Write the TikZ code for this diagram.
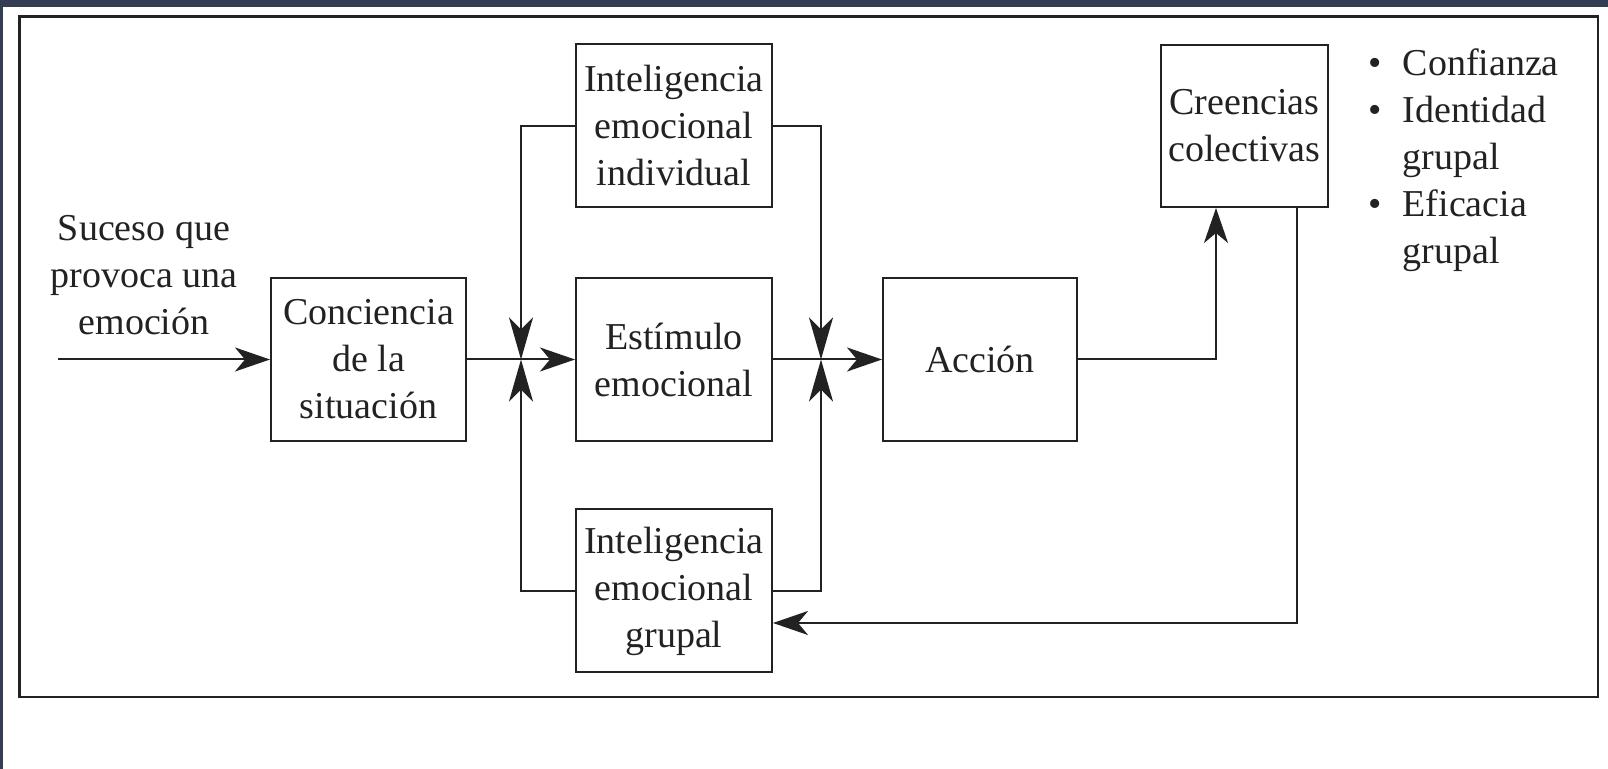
\documentclass[tikz,border=0pt]{standalone}
\usepackage{fontspec}
\setmainfont{Liberation Serif}
\usetikzlibrary{arrows.meta}
\definecolor{band}{HTML}{333E52}
\definecolor{ink}{HTML}{222222}
\tikzset{
  every node/.style={font=\fontsize{19pt}{23.5pt}\selectfont, text=ink},
  box/.style={draw=ink, line width=1pt, minimum width=98pt, minimum height=81.5pt, align=center, inner sep=0pt},
  conn/.style={draw=ink, line width=1pt},
  arrH/.style={conn, -{Stealth[length=17.5pt,width=12pt,inset=5pt]}},
  arrV/.style={conn, -{Stealth[length=21pt,width=12pt,inset=6pt]}},
}
\begin{document}
\begin{tikzpicture}[x=0.5pt,y=-0.5pt]
\useasboundingbox (0,0) rectangle (1608,769);
\fill[white] (0,0) rectangle (1608,769);
\fill[band] (0,0) rectangle (1608,7);
\fill[band] (0,0) rectangle (2.5,769);
\draw[ink, line width=1.3pt] (19.5,16.5) rectangle (1598,697);

\node[box, minimum width=97.5pt] (conc) at (368.5,359.5) {Conciencia\\de la\\situación};
\node[box] (est) at (674,359.5) {Estímulo\\emocional};
\node[box] (ind) at (674,126) {Inteligencia\\emocional\\individual};
\node[box] (grp) at (674,591) {Inteligencia\\emocional\\grupal};
\node[box, minimum width=97pt] (acc) at (980,359.5) {Acción};
\node[box, minimum width=83.5pt, minimum height=81pt] (cre) at (1244.5,126) {Creencias\\colectivas};

\node[align=center] (suc) at (144,275) {Suceso que\\provoca una\\emoción};
\node[anchor=north west, inner sep=0pt] (list) at (1368,42) {%
  \begin{tabular}{@{}l@{\hspace{10.5pt}}l@{}}
  \textbullet & Confianza\\
  \textbullet & Identidad\\
   & grupal\\
  \textbullet & Eficacia\\
   & grupal
  \end{tabular}};

\coordinate (start) at (58,359.5);
\coordinate (j1) at (521,359.5);
\coordinate (j2) at (821,359.5);

\draw[arrH] (start) -- (conc.west);
\draw[arrH] (conc.east) -- (est.west);
\draw[arrH] (est.east) -- (acc.west);
\draw[arrV] (ind.west) -| (j1);
\draw[arrV] (grp.west) -| (j1);
\draw[arrV] (ind.east) -| (j2);
\draw[arrV] (grp.east) -| (j2);
\draw[arrH] (acc.east) -| ([xshift=-14.25pt]cre.south);
\draw[arrH] ([xshift=26.25pt]cre.south) |- ([yshift=-16pt]grp.east);
\end{tikzpicture}
\end{document}
